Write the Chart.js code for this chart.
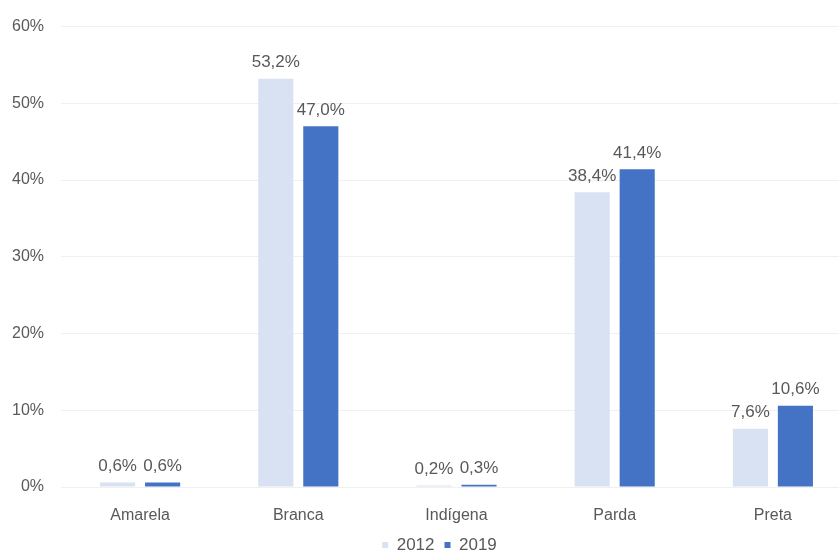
<!DOCTYPE html>
<html>
<head>
<meta charset="utf-8">
<script src="https://cdn.jsdelivr.net/npm/chart.js@4/dist/chart.umd.min.js"></script>
<style>
  html, body { margin: 0; padding: 0; background: #ffffff; overflow: hidden; }
  #wrap { width: 839px; height: 555px; overflow: hidden; }
  #c { display: block; }
</style>
</head>
<body>
<div id="wrap"><canvas id="c" width="852" height="555"></canvas></div>
<script>
// Distribuição por cor ou raça, 2012 e 2019 (%)
const categories = ['Amarela', 'Branca', 'Indígena', 'Parda', 'Preta'];
const values2012 = [0.6, 53.2, 0.2, 38.4, 7.6];
const values2019 = [0.6, 47.0, 0.3, 41.4, 10.6];
const seriesLabels = ['2012', '2019'];
const yTicks = [0, 10, 20, 30, 40, 50, 60];

const FONT = '"Liberation Sans", Arial, sans-serif';
const fmt = v => v.toFixed(1).replace('.', ',') + '%';

// Writes each bar's value just above it
const valueLabels = {
  id: 'valueLabels',
  afterDatasetsDraw(chart) {
    const ctx = chart.ctx;
    ctx.save();
    ctx.font = '17px ' + FONT;
    ctx.fillStyle = '#595959';
    ctx.textAlign = 'center';
    ctx.textBaseline = 'middle';
    chart.data.datasets.forEach((ds, i) => {
      chart.getDatasetMeta(i).data.forEach((bar, j) => {
        ctx.fillText(fmt(ds.data[j]), bar.x, bar.y - 16);
      });
    });
    ctx.restore();
  }
};

// Nudges the legend a little to the right of the canvas centre
const legendShift = {
  id: 'legendShift',
  afterLayout(chart) {
    const lg = chart.legend;
    if (lg) { lg.left += 13.5; lg.right += 13.5; }
  }
};

new Chart(document.getElementById('c'), {
  type: 'bar',
  data: {
    labels: categories,
    datasets: [
      { label: seriesLabels[0], data: values2012, backgroundColor: '#d9e2f3' },
      { label: seriesLabels[1], data: values2019, backgroundColor: '#4472c4' }
    ]
  },
  options: {
    responsive: false,
    animation: false,
    devicePixelRatio: 1,
    layout: { padding: { left: 0, right: 0, top: 26, bottom: -8.5 } },
    datasets: { bar: { categoryPercentage: 0.569, barPercentage: 0.78 } },
    scales: {
      x: {
        grid: { display: false },
        border: { display: false },
        ticks: { color: '#595959', font: { size: 16, family: FONT }, padding: 11 },
        afterFit: axis => { axis.height = 39.5; }
      },
      y: {
        min: 0, max: 60,
        afterBuildTicks: axis => { axis.ticks = yTicks.map(v => ({ value: v })); },
        grid: { color: '#f0f0f0', drawTicks: false },
        border: { display: false },
        ticks: {
          color: '#595959', padding: 17,
          font: { size: 16, family: FONT },
          callback: v => v + '%'
        },
        afterFit: axis => { axis.width = 61; }
      }
    },
    plugins: {
      legend: {
        position: 'bottom',
        labels: {
          color: '#595959', boxWidth: 6, boxHeight: 6, padding: 10,
          font: { size: 17, family: FONT }
        }
      },
      tooltip: { enabled: false }
    }
  },
  plugins: [valueLabels, legendShift]
});
</script>
</body>
</html>
